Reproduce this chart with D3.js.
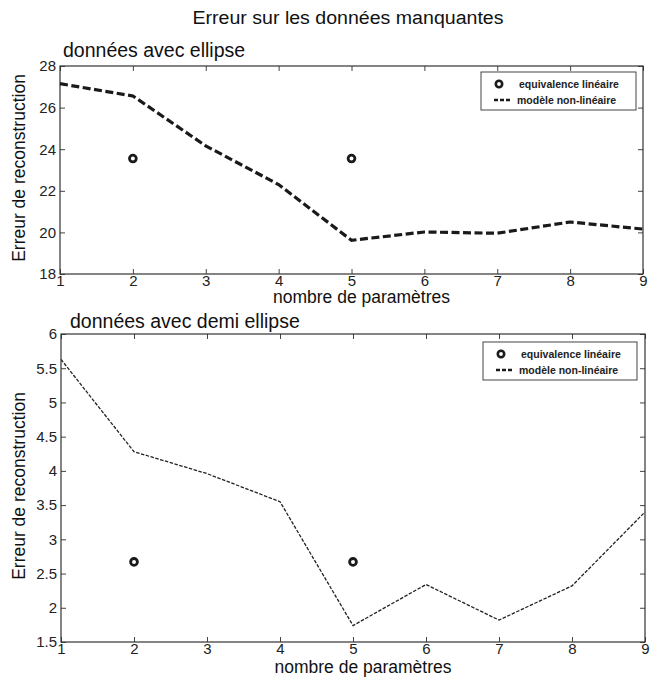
<!DOCTYPE html>
<html>
<head>
<meta charset="utf-8">
<script src="https://cdn.jsdelivr.net/npm/d3@7"></script>
<style>
  html, body { margin: 0; padding: 0; background: #fff; }
  svg { display: block; font-family: "Liberation Sans", Arial, sans-serif; }
</style>
</head>
<body>
<svg id="chart" width="669" height="684"></svg>
<script>
// ---- data ----
const params = [1, 2, 3, 4, 5, 6, 7, 8, 9];
const ellipseNonLin = [27.15, 26.56, 24.16, 22.3, 19.62, 20.02, 19.96, 20.5, 20.16];
const ellipseLinX = [2, 5];
const ellipseLinY = [23.55, 23.55];
const demiNonLin = [5.63, 4.28, 3.96, 3.55, 1.74, 2.34, 1.82, 2.32, 3.4];
const demiLinX = [2, 5];
const demiLinY = [2.67, 2.67];
const ellipseYTicks = [18, 20, 22, 24, 26, 28];
const demiYTicks = [1.5, 2, 2.5, 3, 3.5, 4, 4.5, 5, 5.5, 6];
const xTicks = [1, 2, 3, 4, 5, 6, 7, 8, 9];
const mainTitle = "Erreur sur les données manquantes";
const subTitles = ["données avec ellipse", "données avec demi ellipse"];
const xLabel = "nombre de paramètres";
const yLabel = "Erreur de reconstruction";
const legendLabels = ["equivalence linéaire", "modèle non-linéaire"];

const svg = d3.select("#chart");

svg.append("text")
  .attr("x", 348).attr("y", 24)
  .attr("text-anchor", "middle")
  .attr("font-size", 18)
  .attr("textLength", 311).attr("lengthAdjust", "spacingAndGlyphs")
  .attr("fill", "#111")
  .text(mainTitle);

const panels = [
  { left: 60, right: 643, top: 66, bottom: 274, domain: [18, 28], yTicks: ellipseYTicks,
    line: ellipseNonLin, linX: ellipseLinX, linY: ellipseLinY, sub: subTitles[0], subX: 63, subY: 57,
    xlabY: 303, lineW: 3.2, dash: "8,3.5", lineColor: "#1a1a1a",
    legend: { x: 481, y: 72, w: 155, h: 38 } },
  { left: 61, right: 645, top: 334, bottom: 642, domain: [1.5, 6], yTicks: demiYTicks,
    line: demiNonLin, linX: demiLinX, linY: demiLinY, sub: subTitles[1], subX: 70, subY: 328,
    xlabY: 673, lineW: 1.3, dash: "3.5,1.5", lineColor: "#222",
    legend: { x: 483, y: 342, w: 154, h: 38 } }
];

panels.forEach(p => {
  const x = d3.scaleLinear().domain([1, 9]).range([p.left, p.right]);
  const y = d3.scaleLinear().domain(p.domain).range([p.bottom, p.top]);
  const g = svg.append("g");
  const fmt = d => String(d);

  // inner ticks on all sides
  const tickLen = 5;
  g.append("g").attr("transform", `translate(0,${p.bottom})`)
    .call(d3.axisBottom(x).tickValues(xTicks).tickSizeInner(-tickLen).tickSizeOuter(0).tickPadding(1).tickFormat(fmt))
    .call(a => a.select(".domain").remove());
  g.append("g").attr("transform", `translate(0,${p.top})`)
    .call(d3.axisTop(x).tickValues(xTicks).tickSizeInner(-tickLen).tickSizeOuter(0).tickFormat(""))
    .call(a => a.select(".domain").remove());
  g.append("g").attr("transform", `translate(${p.left},0)`)
    .call(d3.axisLeft(y).tickValues(p.yTicks).tickSizeInner(-tickLen).tickSizeOuter(0).tickPadding(4).tickFormat(fmt))
    .call(a => a.select(".domain").remove());
  g.append("g").attr("transform", `translate(${p.right},0)`)
    .call(d3.axisRight(y).tickValues(p.yTicks).tickSizeInner(-tickLen).tickSizeOuter(0).tickFormat(""))
    .call(a => a.select(".domain").remove());

  g.selectAll(".tick line").attr("stroke", "#444");
  g.selectAll(".tick text").attr("font-size", 15).attr("fill", "#222")
    .attr("font-family", "'Liberation Sans Narrow', 'Liberation Sans', Arial, sans-serif");

  // box
  g.append("rect").attr("x", p.left).attr("y", p.top)
    .attr("width", p.right - p.left).attr("height", p.bottom - p.top)
    .attr("fill", "none").attr("stroke", "#333").attr("stroke-width", 1.2);

  // nonlinear line
  const lineGen = d3.line().x((d, i) => x(params[i])).y(d => y(d));
  g.append("path").datum(p.line)
    .attr("d", lineGen)
    .attr("fill", "none").attr("stroke", p.lineColor)
    .attr("stroke-width", p.lineW).attr("stroke-dasharray", p.dash);

  // linear equivalence markers
  g.selectAll("circle.lin").data(p.linX).enter().append("circle")
    .attr("class", "lin")
    .attr("cx", d => x(d)).attr("cy", (d, i) => y(p.linY[i]))
    .attr("r", 3.4).attr("fill", "#fff").attr("stroke", "#1a1a1a").attr("stroke-width", 2.8);

  // subtitle
  svg.append("text").attr("x", p.subX).attr("y", p.subY)
    .attr("font-size", 19.5).attr("fill", "#111").text(p.sub);

  // x label
  svg.append("text").attr("x", (p.left + p.right) / 2 + 10).attr("y", p.xlabY)
    .attr("text-anchor", "middle").attr("font-size", 17.5).attr("fill", "#111").text(xLabel);

  // y label
  svg.append("text")
    .attr("transform", `translate(25,${(p.top + p.bottom) / 2 - 2}) rotate(-90)`)
    .attr("text-anchor", "middle").attr("font-size", 17.5).attr("fill", "#111").text(yLabel);

  // legend
  const L = p.legend;
  const lg = svg.append("g");
  lg.append("rect").attr("x", L.x).attr("y", L.y).attr("width", L.w).attr("height", L.h)
    .attr("fill", "#fff").attr("stroke", "#444").attr("stroke-width", 1);
  lg.append("circle").attr("cx", L.x + 18).attr("cy", L.y + 12)
    .attr("r", 3.2).attr("fill", "#fff").attr("stroke", "#1a1a1a").attr("stroke-width", 2.6);
  lg.append("line").attr("x1", L.x + 13).attr("x2", L.x + 30)
    .attr("y1", L.y + 28).attr("y2", L.y + 28)
    .attr("stroke", "#1a1a1a").attr("stroke-width", 2.6).attr("stroke-dasharray", "4,2");
  lg.append("text").attr("x", L.x + 38).attr("y", L.y + 15.5)
    .attr("font-size", 10.5).attr("font-weight", "bold").attr("fill", "#222").text(legendLabels[0]);
  lg.append("text").attr("x", L.x + 36).attr("y", L.y + 31.5)
    .attr("font-size", 10.5).attr("font-weight", "bold").attr("fill", "#222").text(legendLabels[1]);
});
</script>
</body>
</html>
